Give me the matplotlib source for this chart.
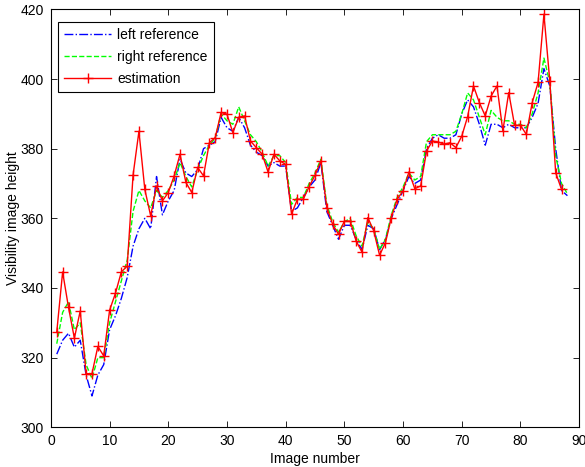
import numpy as np
import matplotlib
matplotlib.use('Agg')
import matplotlib.pyplot as plt

# image index shared by all three series
image_idx = np.arange(1, 88)

estimation = [327.4, 344.6, 334.4, 325.6, 333.4, 315.4, 315.4, 323.2, 320.5, 333.6,
              338.5, 344.6, 346.3, 372.4, 385.0, 368.3, 360.7, 369.3, 365.0, 367.4,
              372.2, 378.4, 370.3, 367.4, 374.6, 372.2, 381.7, 383.2, 390.4, 389.9,
              384.6, 389.0, 389.4, 382.2, 380.3, 378.4, 373.3, 378.4, 376.5, 375.5,
              361.2, 365.5, 365.5, 369.1, 372.4, 376.5, 363.1, 358.3, 355.4, 359.2,
              359.2, 353.5, 350.3, 360.2, 356.4, 349.4, 353.0, 360.2, 365.5, 367.9,
              373.3, 368.5, 369.3, 379.3, 382.2, 381.9, 381.3, 381.7, 380.3, 383.6,
              389.2, 398.0, 393.2, 389.4, 395.1, 398.0, 385.1, 396.1, 386.7, 386.7,
              384.1, 393.2, 399.0, 418.6, 399.4, 373.1, 368.3]

ref_idx = np.arange(1, 89)

left_ref = [321, 325, 327, 323, 325, 315, 309, 315, 318, 328,
            332, 337, 343, 352, 357, 360, 357, 372, 361, 365,
            368, 377, 373, 372, 374, 380, 381, 382, 389, 386,
            385, 389, 386, 381, 379, 378, 375, 376, 375, 375,
            362, 363, 366, 369, 371, 376, 362, 358, 354, 358,
            358, 354, 351, 358, 357, 351, 354, 360, 364, 368,
            372, 370, 371, 380, 383, 384, 383, 383, 384, 390,
            394, 392, 387, 381, 387, 387, 386, 387, 386, 386,
            386, 389, 393, 403, 398, 380, 368, 366.5]

right_ref = [324, 333, 336, 328, 330, 318, 314, 320, 320, 330,
             336, 342, 348, 362, 368, 365, 363, 368, 366, 368,
             371, 376, 372, 369, 374, 378, 381, 383, 390, 388,
             387, 392, 388, 384, 382, 379, 375, 378, 378, 376,
             364, 366, 366, 370, 373, 377, 364, 359, 356, 359,
             360, 355, 352, 359, 357, 351, 354, 361, 366, 369,
             373, 371, 372, 382, 384, 384, 384, 384, 385, 390,
             396, 394, 389, 384, 391, 389, 388, 388, 387, 387,
             386, 390, 396, 406, 399, 378, 370, 367]

plt.rcParams['font.family'] = ['Liberation Sans', 'DejaVu Sans']
plt.rcParams['font.size'] = 10

fig = plt.figure(figsize=(5.85, 4.67), dpi=100)
ax = fig.add_axes([0.087, 0.085, 0.903, 0.895])

ax.plot(ref_idx, left_ref, color='#0000ff', linestyle='-.', linewidth=1.0,
        label='left reference')
ax.plot(ref_idx, right_ref, color='#00ff00', linestyle='--', linewidth=1.0,
        label='right reference')
ax.plot(image_idx, estimation, color='#ff0000', linestyle='-', linewidth=1.0,
        marker='+', markersize=7, markeredgewidth=1.0, label='estimation')

ax.set_xlim(0, 90)
ax.set_ylim(300, 420)
ax.set_xticks(np.arange(0, 91, 10))
ax.set_yticks(np.arange(300, 421, 20))
ax.tick_params(direction='in', top=True, right=True, length=4, width=0.6, pad=5)
for s in ax.spines.values():
    s.set_linewidth(0.8)

ax.set_xlabel('Image number', labelpad=3)
ax.set_ylabel('Visibility image height')
ax.yaxis.set_label_coords(-0.059, 0.5)

leg = ax.legend(loc='upper left', bbox_to_anchor=(7 / 528, 1 - 12.7 / 418),
                borderaxespad=0, fancybox=False, edgecolor='black', framealpha=1,
                handlelength=3.4, borderpad=0.45, labelspacing=0.55,
                handletextpad=0.4)
leg.get_frame().set_linewidth(0.8)

fig.savefig('out.png', dpi=100)
